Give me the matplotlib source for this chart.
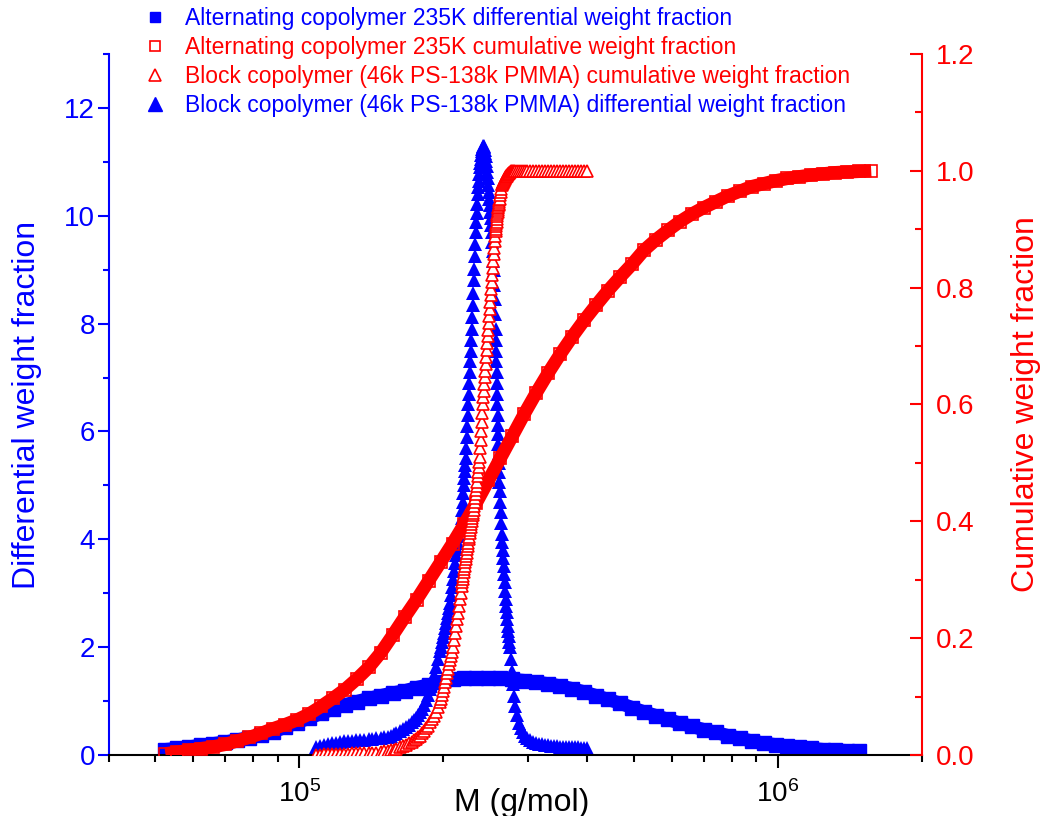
import numpy as np
import matplotlib.pyplot as plt
from matplotlib.lines import Line2D
from matplotlib.ticker import MultipleLocator, NullFormatter, FormatStrFormatter

plt.rcParams['font.family'] = 'Liberation Sans'
plt.rcParams['mathtext.fontset'] = 'custom'
plt.rcParams['mathtext.rm'] = 'Liberation Sans'
plt.rcParams['mathtext.it'] = 'Liberation Sans:italic'
plt.rcParams['mathtext.bf'] = 'Liberation Sans:bold'

# alternating copolymer 235K (log10 of M in g/mol)
alt_logM = [4.720, 4.745, 4.770, 4.795, 4.820, 4.845, 4.870, 4.895, 4.920, 4.945,
            4.970, 4.995, 5.020, 5.045, 5.070, 5.095, 5.120, 5.145, 5.170, 5.195,
            5.220, 5.245, 5.270, 5.295, 5.320, 5.345, 5.370, 5.395, 5.420, 5.445,
            5.470, 5.495, 5.520, 5.545, 5.570, 5.595, 5.620, 5.645, 5.670, 5.695,
            5.720, 5.745, 5.770, 5.795, 5.820, 5.845, 5.870, 5.895, 5.920, 5.945,
            5.970, 5.995, 6.020, 6.045, 6.070, 6.095, 6.120, 6.145, 6.170, 6.195]
alt_diff = [0.10, 0.12, 0.15, 0.18, 0.21, 0.24, 0.28, 0.32, 0.37, 0.43,
            0.51, 0.60, 0.68, 0.77, 0.85, 0.93, 0.99, 1.05, 1.10, 1.15,
            1.19, 1.25, 1.30, 1.36, 1.40, 1.42, 1.43, 1.43, 1.42, 1.40,
            1.38, 1.35, 1.32, 1.28, 1.23, 1.17, 1.10, 1.03, 0.96, 0.88,
            0.80, 0.73, 0.66, 0.59, 0.53, 0.47, 0.42, 0.36, 0.31, 0.26,
            0.22, 0.19, 0.16, 0.14, 0.12, 0.10, 0.09, 0.08, 0.07]
alt_cum = [0.002, 0.005, 0.008, 0.011, 0.014, 0.018, 0.024, 0.030, 0.037, 0.045,
           0.052, 0.060, 0.070, 0.083, 0.097, 0.112, 0.130, 0.150, 0.175, 0.205,
           0.236, 0.266, 0.298, 0.330, 0.362, 0.396, 0.432, 0.470, 0.508, 0.546,
           0.584, 0.620, 0.654, 0.686, 0.716, 0.744, 0.770, 0.795, 0.818, 0.840,
           0.864, 0.882, 0.898, 0.913, 0.926, 0.937, 0.947, 0.957, 0.965, 0.973,
           0.978, 0.983, 0.987, 0.990, 0.993, 0.995, 0.997, 0.998, 0.999, 1.000]

# block copolymer (46k PS-138k PMMA)
block_logM = [
    # low-M tail
    5.0356, 5.0439, 5.0523, 5.0607, 5.0690, 5.0774, 5.0858, 5.0941, 5.1025, 5.1109,
    5.1192, 5.1276, 5.1360, 5.1444, 5.1527, 5.1611, 5.1695, 5.1778, 5.1841, 5.1904,
    5.1967, 5.2029, 5.2092, 5.2155, 5.2218, 5.2280, 5.2343, 5.2385, 5.2427, 5.2469,
    5.2511, 5.2552, 5.2594, 5.2636, 5.2678, 5.2720, 5.2762, 5.2803, 5.2845, 5.2887,
    5.2929, 5.2950,
    # rising edge
    5.2971, 5.2992, 5.3013, 5.3034, 5.3054, 5.3075, 5.3096, 5.3117, 5.3138, 5.3159,
    5.3180, 5.3201, 5.3222, 5.3243, 5.3264, 5.3285, 5.3306, 5.3327, 5.3347, 5.3368,
    5.3389, 5.3400, 5.3410, 5.3421, 5.3431, 5.3442, 5.3452, 5.3462, 5.3473, 5.3483,
    5.3494, 5.3504, 5.3515, 5.3525, 5.3536, 5.3546, 5.3557, 5.3567, 5.3577, 5.3588,
    5.3598, 5.3609, 5.3619, 5.3630, 5.3640, 5.3651, 5.3661, 5.3672, 5.3682, 5.3692,
    5.3703, 5.3713, 5.3724, 5.3734, 5.3745, 5.3755,
    # peak
    5.3766, 5.3776, 5.3787, 5.3797, 5.3808, 5.3818, 5.3829, 5.3839, 5.3849, 5.3860,
    5.3870, 5.3881, 5.3891, 5.3901, 5.3912, 5.3922, 5.3933,
    # falling edge
    5.3943, 5.3954, 5.3964, 5.3975, 5.3985, 5.3996, 5.4006, 5.4017, 5.4027, 5.4038,
    5.4048, 5.4059, 5.4069, 5.4080, 5.4090, 5.4101, 5.4106, 5.4111, 5.4116, 5.4121,
    5.4127, 5.4132, 5.4137, 5.4142, 5.4148, 5.4153, 5.4158, 5.4163, 5.4169, 5.4174,
    5.4179, 5.4184, 5.4195, 5.4205, 5.4216, 5.4226, 5.4237, 5.4247, 5.4258, 5.4268,
    5.4279, 5.4289, 5.4300, 5.4310, 5.4321, 5.4331, 5.4342, 5.4352, 5.4363, 5.4373,
    5.4383, 5.4393, 5.4414, 5.4435, 5.4456, 5.4477,
    # high-M tail
    5.4508, 5.4540, 5.4582, 5.4624, 5.4665, 5.4707, 5.4749, 5.4812, 5.4875, 5.4937,
    5.5000, 5.5063, 5.5126, 5.5188, 5.5251, 5.5314, 5.5377, 5.5439, 5.5502, 5.5565,
    5.5628, 5.5690, 5.5753, 5.5816, 5.5879, 5.5941, 5.6004]
block_diff = [
    0.15, 0.17, 0.19, 0.21, 0.22, 0.23, 0.24, 0.25, 0.26, 0.265,
    0.27, 0.275, 0.28, 0.29, 0.30, 0.31, 0.32, 0.33, 0.34, 0.36,
    0.38, 0.41, 0.44, 0.48, 0.52, 0.56, 0.61, 0.65, 0.69, 0.74,
    0.80, 0.86, 0.93, 1.02, 1.11, 1.22, 1.35, 1.49, 1.63, 1.78,
    1.93, 2.00,
    2.09, 2.18, 2.27, 2.36, 2.45, 2.54, 2.63, 2.72, 2.82, 2.97,
    3.12, 3.27, 3.42, 3.56, 3.70, 3.82, 3.94, 4.06, 4.18, 4.29,
    4.40, 4.55, 4.70, 4.85, 5.00, 5.13, 5.26, 5.38, 5.50, 5.70,
    5.90, 6.10, 6.30, 6.50, 6.70, 6.90, 7.10, 7.30, 7.50, 7.70,
    7.90, 8.12, 8.35, 8.57, 8.80, 9.02, 9.25, 9.47, 9.70, 9.88,
    10.05, 10.22, 10.40, 10.53, 10.65, 10.78,
    10.90, 10.98, 11.05, 11.13, 11.20, 11.24, 11.27, 11.29, 11.30, 11.27,
    11.22, 11.16, 11.10, 11.01, 10.92, 10.81, 10.70,
    10.57, 10.45, 10.32, 10.20, 10.07, 9.95, 9.82, 9.70, 9.52, 9.35,
    9.17, 9.00, 8.72, 8.45, 8.17, 7.90, 7.70, 7.50, 7.30, 7.10,
    6.90, 6.70, 6.50, 6.30, 6.12, 5.95, 5.77, 5.60, 5.42, 5.25,
    5.07, 4.90, 4.70, 4.50, 4.30, 4.10, 3.95, 3.80, 3.65, 3.50,
    3.35, 3.20, 3.05, 2.90, 2.77, 2.65, 2.52, 2.40, 2.30, 2.20,
    2.10, 2.00, 1.78, 1.55, 1.32, 1.10,
    0.90, 0.75, 0.60, 0.50, 0.42, 0.36, 0.31, 0.27, 0.24, 0.22,
    0.21, 0.20, 0.19, 0.18, 0.17, 0.165, 0.16, 0.155, 0.155, 0.15,
    0.15, 0.145, 0.14, 0.14, 0.135, 0.13, 0.13]
block_cum = [
    0.000, 0.000, 0.001, 0.001, 0.001, 0.002, 0.002, 0.002, 0.002, 0.003,
    0.003, 0.003, 0.003, 0.004, 0.004, 0.004, 0.005, 0.006, 0.007, 0.008,
    0.009, 0.011, 0.013, 0.015, 0.017, 0.020, 0.022, 0.025, 0.027, 0.030,
    0.033, 0.037, 0.041, 0.046, 0.050, 0.056, 0.061, 0.067, 0.074, 0.082,
    0.090, 0.095,
    0.102, 0.110, 0.117, 0.125, 0.132, 0.140, 0.147, 0.155, 0.162, 0.170,
    0.177, 0.185, 0.197, 0.208, 0.220, 0.232, 0.243, 0.255, 0.267, 0.278,
    0.290, 0.296, 0.301, 0.307, 0.313, 0.318, 0.324, 0.330, 0.335, 0.341,
    0.346, 0.352, 0.358, 0.363, 0.369, 0.374, 0.380, 0.385, 0.390, 0.395,
    0.400, 0.405, 0.410, 0.415, 0.420, 0.427, 0.433, 0.440, 0.447, 0.453,
    0.460, 0.468, 0.477, 0.485, 0.493, 0.502,
    0.510, 0.525, 0.540, 0.555, 0.570, 0.585, 0.600, 0.612, 0.623, 0.635,
    0.647, 0.658, 0.670, 0.682, 0.693, 0.705, 0.717,
    0.728, 0.740, 0.752, 0.763, 0.775, 0.787, 0.798, 0.810, 0.822, 0.833,
    0.845, 0.857, 0.868, 0.880, 0.888, 0.897, 0.901, 0.905, 0.909, 0.913,
    0.918, 0.922, 0.926, 0.930, 0.933, 0.936, 0.938, 0.941, 0.944, 0.947,
    0.950, 0.952, 0.958, 0.964, 0.969, 0.975, 0.977, 0.979, 0.981, 0.983,
    0.985, 0.986, 0.988, 0.990, 0.991, 0.992, 0.993, 0.994, 0.995, 0.996,
    0.997, 0.998, 0.999, 1.000, 1.000, 1.000,
    1.000, 1.000, 1.000, 1.000, 1.000, 1.000, 1.000, 1.000, 1.000, 1.000,
    1.000, 1.000, 1.000, 1.000, 1.000, 1.000, 1.000, 1.000, 1.000, 1.000,
    1.000, 1.000, 1.000, 1.000, 1.000, 1.000, 1.000]

labels = ['Alternating copolymer 235K differential weight fraction',
          'Alternating copolymer 235K cumulative weight fraction',
          'Block copolymer (46k PS-138k PMMA) cumulative weight fraction',
          'Block copolymer (46k PS-138k PMMA) differential weight fraction']
label_colors = ['blue', 'red', 'red', 'blue']

alt_M = 10 ** np.array(alt_logM)
block_M = 10 ** np.array(block_logM)

fig = plt.figure(figsize=(10.4, 8.16), dpi=100)
ax = fig.add_axes([0.1048, 0.0748, 0.7817, 0.859])
ax2 = ax.twinx()

# differential curves (left axis)
ax.plot(alt_M[:len(alt_diff)], alt_diff, color='blue', marker='s', ms=9.5, lw=9.5,
        solid_joinstyle='round', solid_capstyle='butt')
ax.plot(block_M, block_diff, ls='none', marker='^', color='blue', ms=9.5, mew=0)

# cumulative curves (right axis)
ax2.plot(alt_M, alt_cum, color='red', marker='s', mfc='none', mec='red', mew=1.2, ms=9, lw=9.5,
         solid_joinstyle='round', solid_capstyle='butt')
ax2.plot(block_M, block_cum, ls='none', marker='^', mfc='white', mec='red', mew=1.2, ms=9)

ax.set_xscale('log')
ax.set_xlim(4e4, 2e6)
ax.set_ylim(0, 13)
ax2.set_ylim(0, 1.2)

ax.yaxis.set_major_locator(MultipleLocator(2))
ax.yaxis.set_minor_locator(MultipleLocator(1))
ax2.yaxis.set_major_locator(MultipleLocator(0.2))
ax2.yaxis.set_minor_locator(MultipleLocator(0.1))
ax2.yaxis.set_major_formatter(FormatStrFormatter('%.1f'))
ax.xaxis.set_minor_formatter(NullFormatter())

ax.tick_params(axis='x', which='major', direction='out', length=9, width=1.5,
               colors='black', labelsize=20, pad=9)
ax.tick_params(axis='x', which='minor', direction='out', length=5, width=1.5, colors='black')
ax.tick_params(axis='y', which='major', direction='out', length=8, width=1.5,
               colors='blue', labelsize=20, pad=2)
ax.tick_params(axis='y', which='minor', direction='out', length=4, width=1.5, colors='blue')
ax2.tick_params(axis='y', which='major', direction='in', length=9, width=1.5,
                colors='red', labelsize=20, pad=10)
ax2.tick_params(axis='y', which='minor', direction='in', length=5, width=1.5, colors='red')

for s in ['top', 'right']:
    ax.spines[s].set_visible(False)
for s in ['top', 'left', 'bottom']:
    ax2.spines[s].set_visible(False)
ax.spines['left'].set_color('blue')
ax.spines['left'].set_linewidth(1.5)
ax.spines['bottom'].set_color('black')
ax.spines['bottom'].set_linewidth(1.5)
ax2.spines['right'].set_color('red')
ax2.spines['right'].set_linewidth(1.5)

ax.set_xlabel('M (g/mol)', fontsize=23)
ax.xaxis.set_label_coords(0.508, -0.047)
ax.set_ylabel('Differential weight fraction', color='blue', fontsize=23, labelpad=16)
ax2.set_ylabel('Cumulative weight fraction', color='red', fontsize=23, labelpad=26)

handles = [Line2D([], [], ls='none', marker='s', color='blue', ms=7),
           Line2D([], [], ls='none', marker='s', mfc='white', mec='red', mew=1.2, ms=6.5),
           Line2D([], [], ls='none', marker='^', mfc='white', mec='red', mew=1.2, ms=9),
           Line2D([], [], ls='none', marker='^', color='blue', ms=9.5)]
leg = fig.legend(handles, labels, loc='upper left', bbox_to_anchor=(0.1385, 0.992),
                 frameon=False, fontsize=16.5, handlelength=1.0, handletextpad=0.8,
                 labelspacing=0.27, borderpad=0, borderaxespad=0)
for text, c in zip(leg.get_texts(), label_colors):
    text.set_color(c)

fig.savefig('out.png', dpi=100)
